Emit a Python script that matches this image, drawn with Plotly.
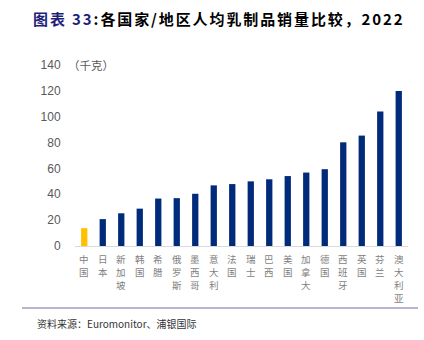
import plotly.graph_objects as go

categories = ["中国", "日本", "新加坡", "韩国", "希腊", "俄罗斯", "墨西哥", "意大利", "法国",
              "瑞士", "巴西", "美国", "加拿大", "德国", "西班牙", "英国", "芬兰", "澳大利亚"]
values = [13.8, 20.8, 25.3, 28.9, 36.7, 37.0, 40.4, 46.9, 47.9,
          50.0, 51.6, 54.1, 56.8, 59.4, 80.2, 85.4, 104.0, 119.8]
highlight = "中国"
y_ticks = [0, 20, 40, 60, 80, 100, 120, 140]

NAVY = "#002A7A"
GOLD = "#FFC000"
colors = [GOLD if c == highlight else NAVY for c in categories]

W, H = 424, 340
ML, MR, MT, MB = 75, 16, 65, 94
PW, PH = W - ML - MR, H - MT - MB


def px_x(p):
    return (p - ML) / PW


def px_y(p):
    return (H - MB - p) / PH


fig = go.Figure(go.Bar(
    x=categories, y=values, marker=dict(color=colors, line=dict(width=0)),
))

fig.update_layout(
    width=W, height=H,
    margin=dict(l=ML, r=MR, t=MT, b=MB),
    paper_bgcolor="white", plot_bgcolor="white",
    bargap=0.66,
    showlegend=False,
    font=dict(family="Noto Sans CJK SC, Noto Sans, sans-serif", color="#595959"),
)
fig.update_xaxes(
    showticklabels=False,
    showline=True, linecolor="#D9D9D9", linewidth=1, showgrid=False, ticks="",
)
fig.update_yaxes(
    range=[0, 140], tickvals=y_ticks, showgrid=False, zeroline=False,
    showline=False, ticks="outside", ticklen=11, tickcolor="rgba(0,0,0,0)",
    tickfont=dict(size=12, color="#595959", family="Liberation Sans, Arial"),
)

# vertical (stacked) category labels
for cat in categories:
    for i, ch in enumerate(cat):
        fig.add_annotation(
            x=cat, y=px_y(259 + 13 * i), xref="x", yref="paper",
            xanchor="center", yanchor="middle", showarrow=False, text=ch,
            font=dict(size=9.5, color="#7F7F7F", family="Noto Sans CJK SC"),
        )

fig.add_annotation(
    x=px_x(66), y=140, xref="paper", yref="y", xanchor="left", yanchor="middle",
    text="（千克）", showarrow=False,
    font=dict(size=11.5, color="#595959", family="Noto Sans CJK SC"),
)

fig.add_annotation(
    x=px_x(31), y=px_y(18),
    xref="paper", yref="paper", xanchor="left", yanchor="middle", showarrow=False,
    text="<span style='letter-spacing:1.9px'><b><span style='color:#1F1F7A'>图表 33</span>:各国家/地区人均乳制品销量比较，2022</b></span>",
    font=dict(size=15, color="#000000", family="Noto Sans CJK SC"),
)
fig.add_shape(
    type="line", xref="paper", yref="paper",
    x0=px_x(22), x1=px_x(418), y0=px_y(308), y1=px_y(308),
    line=dict(color="#A09CC4", width=1.5),
)
fig.add_annotation(
    x=px_x(35), y=px_y(323),
    xref="paper", yref="paper", xanchor="left", yanchor="middle", showarrow=False,
    text="资料来源：Euromonitor、浦银国际",
    font=dict(size=10, color="#333333", family="Noto Sans CJK SC"),
)

fig.write_html("out.html")
